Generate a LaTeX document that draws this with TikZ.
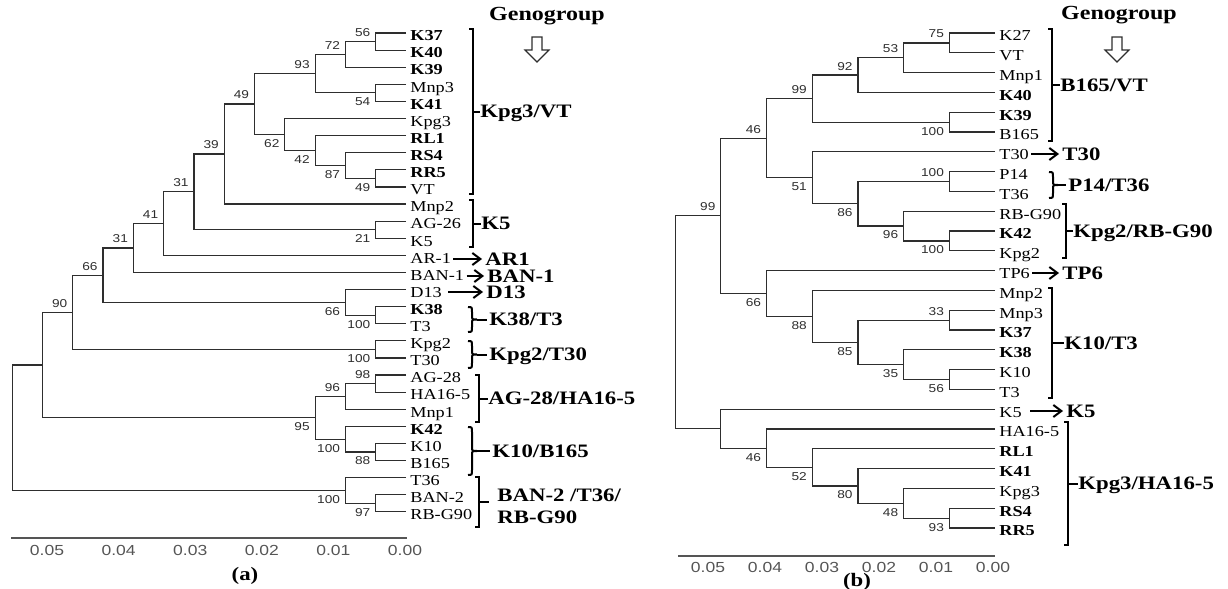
\documentclass[tikz,border=0pt]{standalone}
\usepackage{fontspec}
\setmainfont{Liberation Serif}[FakeStretch=1.2]
\newfontfamily\bootfont{Liberation Sans}[FakeStretch=1.2]
\usetikzlibrary{arrows.meta,calc}
\definecolor{treegray}{HTML}{2E2E2E}
\definecolor{axisgray}{HTML}{555555}
\tikzset{
  branch/.style={draw=treegray, line width=0.6pt},
  leaflab/.style={anchor=base west, inner sep=0pt, xshift=2pt, yshift=-3.9pt,
    font=\fontsize{7.6}{8}\selectfont},
  leafbold/.style={leaflab, font=\fontsize{7.6}{8}\selectfont\bfseries},
  bootlab/.style={anchor=east, inner sep=0pt, text=treegray,
    font=\bootfont\fontsize{5.7}{6}\selectfont},
  bootup/.style={bootlab, xshift=-2.5pt, yshift=4.5pt},
  bootdown/.style={bootlab, xshift=-2.5pt, yshift=-4.5pt},
  grouplab/.style={anchor=west, inner sep=0pt, text height=6.2pt, text depth=0pt,
    font=\fontsize{9.5}{11}\selectfont\bfseries},
  genolab/.style={inner sep=0pt, font=\fontsize{10}{12}\selectfont\bfseries},
  brk/.style={draw=black, line width=1pt},
  garrow/.style={-{Straight Barb[length=4pt,width=6pt]}, line width=1pt,
    shorten <=1pt, shorten >=1.5pt},
  hollowarr/.style={draw=treegray, line width=0.6pt, fill=white},
  axisline/.style={draw=axisgray, line width=1pt},
  axislab/.style={inner sep=0pt, text=axisgray,
    font=\bootfont\fontsize{7.3}{8}\selectfont},
  panellab/.style={inner sep=0pt, font=\fontsize{9.5}{11}\selectfont\bfseries},
}
% square bracket: x, top, bottom, label
\newcommand{\sqbrk}[4]{%
  \draw[brk] (#1-4,#2) -- (#1,#2) -- (#1,#3) -- (#1-4,#3);
  \draw[brk] (#1,{(#2+#3)/2}) -- (#4.west);}
% curly bracket: x, top, bottom, label
\newcommand{\cubrk}[4]{%
  \draw[brk] (#1-4,#2) .. controls (#1,#2) .. (#1,#2+5)
    -- (#1,{(#2+#3)/2-4}) .. controls (#1,{(#2+#3)/2}) .. (#1+5,{(#2+#3)/2})
    .. controls (#1,{(#2+#3)/2}) .. (#1,{(#2+#3)/2+4})
    -- (#1,#3-5) .. controls (#1,#3) .. (#1-4,#3);
  \draw[brk, shorten >=1pt] (#1+5,{(#2+#3)/2}) -- (#4.west);}

\begin{document}
\begin{tikzpicture}[x=0.5pt, y=-0.5pt]
  \useasboundingbox (0,0) rectangle (1228,589);

  % ---------- tree (a) ----------
  \foreach \nm/\txt/\st [count=\i from 0] in {K37/K37/leafbold, K40/K40/leafbold,
      K39/K39/leafbold, Mnp3/Mnp3/leaflab, K41/K41/leafbold, Kpg3/Kpg3/leaflab,
      RL1/RL1/leafbold, RS4/RS4/leafbold, RR5/RR5/leafbold, VT/VT/leaflab,
      Mnp2/Mnp2/leaflab, AG26/AG-26/leaflab, K5/K5/leaflab, AR1/AR-1/leaflab,
      BAN1/BAN-1/leaflab, D13/D13/leaflab, K38/K38/leafbold, T3/T3/leaflab,
      Kpg2/Kpg2/leaflab, T30/T30/leaflab, AG28/AG-28/leaflab, HA165/HA16-5/leaflab,
      Mnp1/Mnp1/leaflab, K42/K42/leafbold, K10/K10/leaflab, B165/B165/leaflab,
      T36/T36/leaflab, BAN2/BAN-2/leaflab, RBG90/RB-G90/leaflab}{
    \coordinate (a\nm) at (406,{33+17.1*\i});
    \node[\st] (ta\nm) at (a\nm) {\txt};
  }
  % internal nodes: name/x/y/child/child/label style/value
  \foreach \n/\x/\y/\ca/\cb/\st/\v in {
      56/375.7/41.55/aK37/aK40/bootup/56, 72/345.4/54.38/a56/aK39/bootup/72,
      54/375.7/92.85/aMnp3/aK41/bootdown/54, 93/315.1/73.61/a72/a54/bootup/93,
      49b/375.7/178.35/aRR5/aVT/bootdown/49, 87/345.4/165.53/aRS4/a49b/bootdown/87,
      42/315.1/150.56/aRL1/a87/bootdown/42, 62/284.8/134.53/aKpg3/a42/bootdown/62,
      49/254.5/104.07/a93/a62/bootup/49, 39/224.2/154.04/a49/aMnp2/bootup/39,
      21/375.7/229.65/aAG26/aK5/bootdown/21, 31/193.9/191.84/a39/a21/bootup/31,
      41/163.6/223.57/a31/aAR1/bootup/41, 31b/133.3/247.98/a41/aBAN1/bootup/31,
      100a/375.7/315.15/aK38/aT3/bootdown/100, 66b/345.4/302.33/aD13/a100a/bootdown/66,
      66/103/275.15/a31b/a66b/bootup/66, 100b/375.7/349.35/aKpg2/aT30/bootdown/100,
      90/72.7/312.25/a66/a100b/bootup/90, 98/375.7/383.55/aAG28/aHA165/bootup/98,
      96/345.4/396.38/a98/aMnp1/bootup/96, 88/375.7/451.95/aK10/aB165/bootdown/88,
      100c/345.4/439.13/aK42/a88/bootdown/100, 95/315.1/417.75/a96/a100c/bootdown/95,
      97/375.7/503.25/aBAN2/aRBG90/bootdown/97, 100d/345.4/490.43/aT36/a97/bootdown/100}{
    \coordinate (a\n) at (\x,\y);
    \draw[branch] (\ca) -| (a\n) |- (\cb);
    \node[\st] (la\n) at (a\n) {\v};
  }
  \coordinate (aX) at (42.4,365);
  \draw[branch] (a90) -| (aX) |- (a95);
  \coordinate (aroot) at (12.1,427.7);
  \draw[branch] (aX) -| (aroot) |- (a100d);

  % genogroups (a)
  \node[grouplab] (gKpg3VT) at (480,111.5) {Kpg3/VT};
  \sqbrk{473}{29}{194}{gKpg3VT}
  \node[grouplab] (gK5a) at (481,223.5) {K5};
  \sqbrk{473}{200}{247}{gK5a}
  \node[grouplab] (gAR1) at (485,259) {AR1};
  \draw[garrow] (taAR1.east |- gAR1.west) -- (gAR1.west);
  \node[grouplab] (gBAN1) at (487,276) {BAN-1};
  \draw[garrow] (taBAN1.east |- gBAN1.west) -- (gBAN1.west);
  \node[grouplab] (gD13) at (486,292) {D13};
  \draw[garrow, shorten <=3pt] (taD13.east |- gD13.west) -- (gD13.west);
  \node[grouplab] (gK38T3) at (489,319.5) {K38/T3};
  \cubrk{472}{307}{332}{gK38T3}
  \node[grouplab] (gKpg2T30) at (489,354.5) {Kpg2/T30};
  \cubrk{472}{341}{368}{gKpg2T30}
  \node[grouplab] (gAG28) at (488,398.5) {AG-28/HA16-5};
  \sqbrk{479}{375}{422}{gAG28}
  \node[grouplab] (gK10B165) at (492,451) {K10/B165};
  \cubrk{472}{427}{475}{gK10B165}
  \node[grouplab] (gBAN2a) at (497,495) {BAN-2 /T36/};
  \node[grouplab] (gBAN2b) at (497,517) {RB-G90};
  \draw[brk] (475,477) -- (479,477) -- (479,527) -- (475,527);
  \draw[brk] (479,502) -- ++(10,0);

  \node[genolab] (genoA) at (547,16) {Genogroup};
  \coordinate (hA) at (537,37);
  \draw[hollowarr] (hA) ++(-5,0) -- ++(10,0) -- ++(0,13) -- ++(7,0) -- ++(-12,12)
    -- ++(-12,-12) -- ++(7,0) -- cycle;

  % scale (a)
  \coordinate (aaxl) at (11,538);
  \coordinate (aaxr) at (407,538);
  \draw[axisline] (aaxl) -- (aaxr);
  \foreach \v [count=\k from 0] in {0.00,0.01,0.02,0.03,0.04,0.05}
    \node[axislab] (aax\k) at ({405-71.6*\k},550) {\v};
  \node[panellab] (capA) at (245,576) {(a)};

  % ---------- tree (b) ----------
  \foreach \nm/\txt/\st [count=\i from 0] in {K27/K27/leaflab, VT/VT/leaflab,
      Mnp1/Mnp1/leaflab, K40/K40/leafbold, K39/K39/leafbold, B165/B165/leaflab,
      T30/T30/leaflab, P14/P14/leaflab, T36/T36/leaflab, RBG90/RB-G90/leaflab,
      K42/K42/leafbold, Kpg2/Kpg2/leaflab, TP6/TP6/leaflab, Mnp2/Mnp2/leaflab,
      Mnp3/Mnp3/leaflab, K37/K37/leafbold, K38/K38/leafbold, K10/K10/leaflab,
      T3/T3/leaflab, K5/K5/leaflab, HA165/HA16-5/leaflab, RL1/RL1/leafbold,
      K41/K41/leafbold, Kpg3/Kpg3/leaflab, RS4/RS4/leafbold, RR5/RR5/leafbold}{
    \coordinate (b\nm) at (995,{33+19.8*\i});
    \node[\st] (tb\nm) at (b\nm) {\txt};
  }
  \foreach \n/\x/\y/\ca/\cb/\st/\v in {
      75/949.3/42.9/bK27/bVT/bootup/75, 53/903.6/57.75/b75/bMnp1/bootup/53,
      92/857.9/75.08/b53/bK40/bootup/92, 100a/949.3/122.1/bK39/bB165/bootdown/100,
      99a/812.2/98.59/b92/b100a/bootup/99, 100b/949.3/181.5/bP14/bT36/bootup/100,
      100c/949.3/240.9/bK42/bKpg2/bootdown/100, 96/903.6/226.05/bRBG90/b100c/bootdown/96,
      86/857.9/203.78/b100b/b96/bootdown/86, 51/812.2/177.79/bT30/b86/bootdown/51,
      46a/766.5/138.19/b99a/b51/bootup/46, 33/949.3/320.1/bMnp3/bK37/bootup/33,
      56/949.3/379.5/bK10/bT3/bootdown/56, 35/903.6/364.65/bK38/b56/bootdown/35,
      85/857.9/342.38/b33/b35/bootdown/85, 88/812.2/316.39/bMnp2/b85/bootdown/88,
      66/766.5/293.49/bTP6/b88/bootdown/66, 99b/720.8/215.84/b46a/b66/bootup/99,
      93/949.3/518.1/bRS4/bRR5/bootdown/93, 48/903.6/503.25/bKpg3/b93/bootdown/48,
      80/857.9/485.93/bK41/b48/bootdown/80, 52/812.2/467.36/bRL1/b80/bootdown/52,
      46b/766.5/448.18/bHA165/b52/bootdown/46}{
    \coordinate (b\n) at (\x,\y);
    \draw[branch] (\ca) -| (b\n) |- (\cb);
    \node[\st] (lb\n) at (b\n) {\v};
  }
  \coordinate (bY) at (720.8,428.69);
  \draw[branch] (bK5) -| (bY) |- (b46b);
  \coordinate (broot) at (675.1,322.27);
  \draw[branch] (b99b) -| (broot) |- (bY);

  % genogroups (b)
  \node[grouplab] (gB165VT) at (1060,85) {B165/VT};
  \sqbrk{1052}{29}{141}{gB165VT}
  \node[grouplab] (gT30) at (1062,154) {T30};
  \draw[garrow] (tbT30.east |- gT30.west) -- (gT30.west);
  \node[grouplab] (gP14T36) at (1068,185) {P14/T36};
  \cubrk{1053}{172}{198}{gP14T36}
  \node[grouplab] (gKpg2RB) at (1073,231) {Kpg2/RB-G90};
  \sqbrk{1066}{204}{258}{gKpg2RB}
  \node[grouplab] (gTP6) at (1062,273) {TP6};
  \draw[garrow] (tbTP6.east |- gTP6.west) -- (gTP6.west);
  \node[grouplab] (gK10T3) at (1064,343) {K10/T3};
  \sqbrk{1052}{288}{398}{gK10T3}
  \node[grouplab] (gK5b) at (1066,411) {K5};
  \draw[garrow, shorten <=4pt] (tbK5.east |- gK5b.west) -- (gK5b.west);
  \node[grouplab] (gKpg3HA) at (1078,483.5) {Kpg3/HA16-5};
  \sqbrk{1068}{422}{545}{gKpg3HA}

  \node[genolab] (genoB) at (1119,15) {Genogroup};
  \coordinate (hB) at (1117,37);
  \draw[hollowarr] (hB) ++(-5,0) -- ++(10,0) -- ++(0,13) -- ++(7,0) -- ++(-12,12)
    -- ++(-12,-12) -- ++(7,0) -- cycle;

  % scale (b)
  \coordinate (baxl) at (678,556);
  \coordinate (baxr) at (995,556);
  \draw[axisline] (baxl) -- (baxr);
  \foreach \v [count=\k from 0] in {0.00,0.01,0.02,0.03,0.04,0.05}
    \node[axislab] (bax\k) at ({993-57*\k},567) {\v};
  \node[panellab] (capB) at (857,582) {(b)};
\end{tikzpicture}
\end{document}
